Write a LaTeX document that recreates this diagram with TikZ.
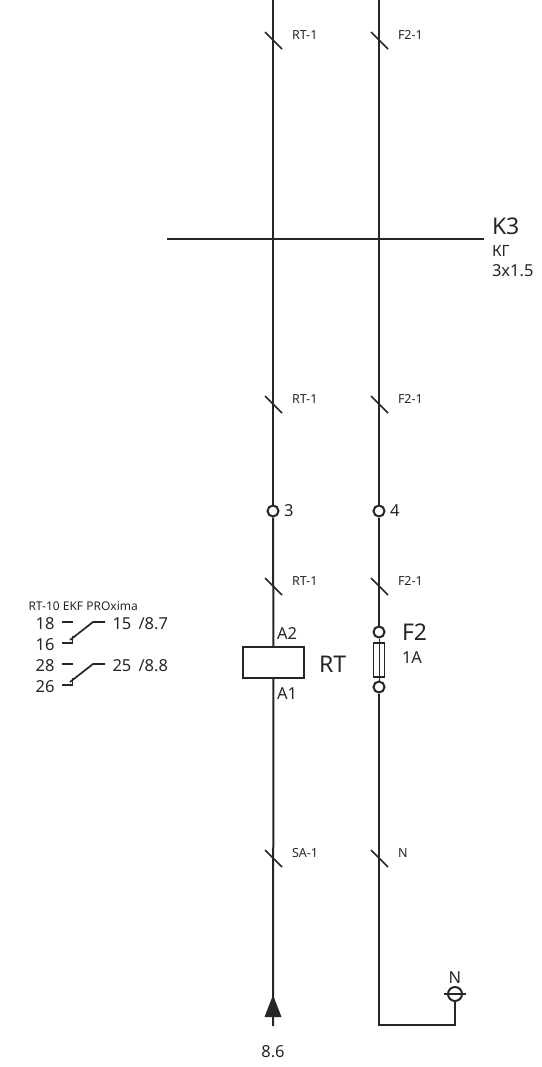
\documentclass[tikz,border=0pt]{standalone}
\usepackage{fontspec}
\setmainfont{Noto Sans}
\usetikzlibrary{positioning}
\tikzset{
  node distance=3.5pt,
  lbl/.style={inner sep=0pt, font=\fontsize{16.5}{16.5}\selectfont},
  biglbl/.style={inner sep=0pt, font=\fontsize{23}{23}\selectfont},
  wirelbl/.style={inner sep=0pt, anchor=west, font=\fontsize{12.5}{12.5}\selectfont},
  terminal/.style={draw, circle, inner sep=0pt, minimum size=11pt},
  coil/.style={draw, inner sep=0pt, minimum width=61pt, minimum height=31pt},
  fuse/.style={draw, inner sep=0pt, minimum width=11pt, minimum height=34pt},
  contact/.style={line width=1.7pt}
}

\begin{document}
\begin{tikzpicture}[x=1pt, y=-1pt, line width=2pt, color=black!85]
      \useasboundingbox (0,0) rectangle (541,1067);

      % wire ends
      \coordinate (rttop) at (273,0);
      \coordinate (f2top) at (379,0);
      \coordinate (rtend) at (273,1026);
      \coordinate (f2end) at (379,1025);
      \coordinate (nend) at (455,1025);

      % terminals and devices
      \node[terminal] (t3) at (273,511) {};
      \node[terminal] (t4) at (379,511) {};
      \node[coil] (rt) at (273.5,662.5) {};
      \node[terminal] (f2a) at (379,632) {};
      \node[fuse, line width=1.5pt] (f2) at (379,660) {};
      \node[terminal] (f2b) at (379,687) {};
      \node[terminal, minimum size=14pt] (n) at (455,994) {};

      \node[lbl, anchor=west, right = of t3, yshift=0.5pt] {3};
      \node[lbl, anchor=west, right = of t4, yshift=0.5pt] {4};
      \node[lbl, anchor=west] at (276,633.5) {A2};
      \node[lbl, anchor=west] at (276,693.5) {A1};
      \node[biglbl, anchor=west] at (318,664.5) {RT};
      \node[biglbl, anchor=west] (f2name) at (401,632.5) {F2};
      \node[lbl, anchor=west] at (401,657.5) {1A};
      \node[lbl] at (455,977.5) {N};
      \node[lbl] at (273,1051.5) {8.6};

      % wires
      \path (rttop) edge (t3)
      (t3) edge (rt)
      (rt) edge (rtend)
      (f2top) edge (t4)
      (t4) edge (f2a)
      (f2a) edge[line width=1pt] (f2b);
      \draw (f2b) -- (f2end) -- (nend) -- (n);
      \draw[contact] (444,994) -- (466,994);

      % feed arrow
      \fill (273,995) -- (281.5,1017) -- (264.5,1017) -- cycle;

      % wire marks
      \foreach \xpos/\ypos/\txt in {273/41/RT-1, 379/41/F2-1, 273/405/RT-1, 379/405/F2-1,
        273/587/RT-1, 379/587/F2-1, 273/859/SA-1, 379/859/N}{
        \draw[contact] (\xpos-8,\ypos-9) -- (\xpos+9,\ypos+8);
        \node[wirelbl] at (\xpos+18,\ypos-6) {\txt};
      }

      % cable
      \coordinate (cblstart) at (167,239);
      \coordinate (cblend) at (484,239);
      \draw (cblstart) -- (cblend);
      \node[biglbl, anchor=west] at (491,226.5) {K3};
      \node[lbl, anchor=west, font=\fontsize{15.5}{15.5}\selectfont] at (491,250.5) {КГ};
      \node[lbl, anchor=west, font=\fontsize{16.5}{16.5}\selectfont] at (491,270.5) {3x1.5};

      % relay contacts
      \node[wirelbl, font=\fontsize{12}{12}\selectfont] at (27.5,606) {RT-10 EKF PROxima};
      \foreach \ypos/\na/\nb/\nc/\ref in {622/18/16/15/8.7, 664/28/26/25/8.8}{
        \node[lbl] at (45,\ypos+1.5) {\na};
        \node[lbl] at (45,\ypos+22.5) {\nb};
        \node[lbl, anchor=west] at (111.5,\ypos+1.5) {\nc};
        \node[lbl, anchor=west] at (137.5,\ypos+1.5) {/\ref};
        \draw[contact] (62,\ypos) -- (73,\ypos);
        \draw[contact] (62,\ypos+21) -- (72.5,\ypos+21) -- (72.5,\ypos+14);
        \draw[contact] (70,\ypos+18) -- (93,\ypos) -- (105,\ypos);
      }
\end{tikzpicture}
\end{document}
